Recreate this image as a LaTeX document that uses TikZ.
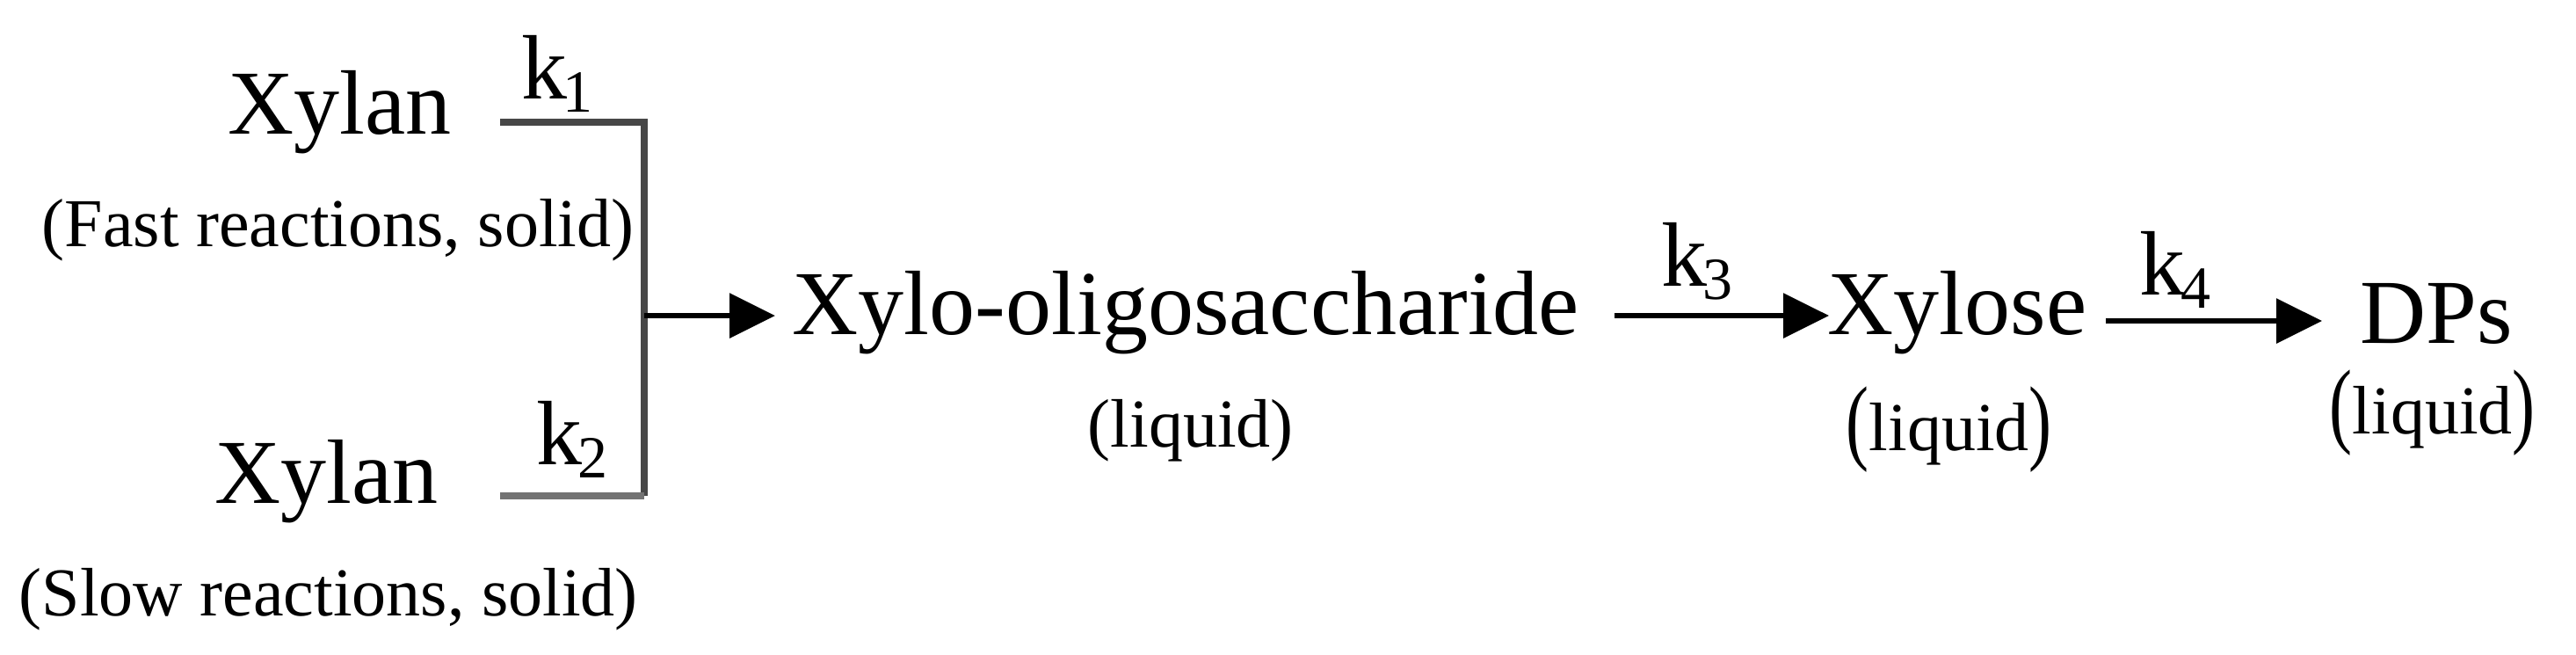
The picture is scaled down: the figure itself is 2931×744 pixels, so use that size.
\documentclass[tikz,border=0pt]{standalone}
\usepackage{fontspec}
\usepackage{graphicx}
\setmainfont{Liberation Serif}
\usetikzlibrary{arrows.meta}
\newcommand\tallL{\raisebox{-0.03em}{\scalebox{1}[1.38]{(}}}
\newcommand\tallR{\raisebox{-0.03em}{\scalebox{1}[1.38]{)}}}
\newcommand\kk[1]{k\kern-0.05em\raisebox{-3.75pt}{\fontsize{17}{17}\selectfont #1}}
\begin{document}
\begin{tikzpicture}[x=0.25pt,y=-0.25pt,
  bigtxt/.style={inner sep=0pt,anchor=base west,font=\fontsize{26}{30}\selectfont},
  smalltxt/.style={inner sep=0pt,anchor=base west,font=\fontsize{19.5}{22}\selectfont},
  bracket/.style={line width=2pt,color=black!72},
  bracketlow/.style={line width=2.2pt,color=black!55},
  rxn/.style={line width=1.6pt,-{Triangle[length=13pt,width=12.5pt]}}]
\useasboundingbox (0,0) rectangle (2931,744);
% texts
\node[bigtxt] (xylan1) at (259,152) {Xylan};
\node[smalltxt] (fast) at (47,280) {(Fast reactions, solid)};
\node[bigtxt] (xylan2) at (244,572) {Xylan};
\node[smalltxt] (slow) at (21,700) {(Slow reactions, solid)};
\node[bigtxt] (k1) at (593,112) {\kk{1}};
\node[bigtxt] (k2) at (610,528) {\kk{2}};
\node[bigtxt] (xos) at (901,380) {Xylo-oligosaccharide};
\node[smalltxt] (liq1) at (1237,508) {(liquid)};
\node[bigtxt] (k3) at (1890,325) {\kk{3}};
\node[bigtxt] (xylose) at (2079,380) {Xylose};
\node[smalltxt] (liq2) at (2100,512) {\tallL liquid\tallR};
\node[bigtxt] (k4) at (2434,335) {\kk{4}};
\node[bigtxt] (dps) at (2685,390) {DPs};
\node[smalltxt] (liq3) at (2650,493) {\tallL liquid\tallR};
% connector coordinates
\coordinate (b1) at (569,139);
\coordinate (bc1) at (733,139);
\coordinate (bc2) at (733,564);
\coordinate (b2) at (569,564);
\coordinate (a0s) at (733,359);
\coordinate (a0e) at (882,359);
\coordinate (a3s) at (1837,359);
\coordinate (a3e) at (2081,359);
\coordinate (a4s) at (2396,365);
\coordinate (a4e) at (2642,365);
% bracket
\draw[bracket] (b1) -- (bc1) -- (bc2);
\draw[bracketlow] (b2) -- (bc2);
% arrows
\draw[rxn] (a0s) -- (a0e);
\draw[rxn] (a3s) -- (a3e);
\draw[rxn] (a4s) -- (a4e);
\end{tikzpicture}
\end{document}
